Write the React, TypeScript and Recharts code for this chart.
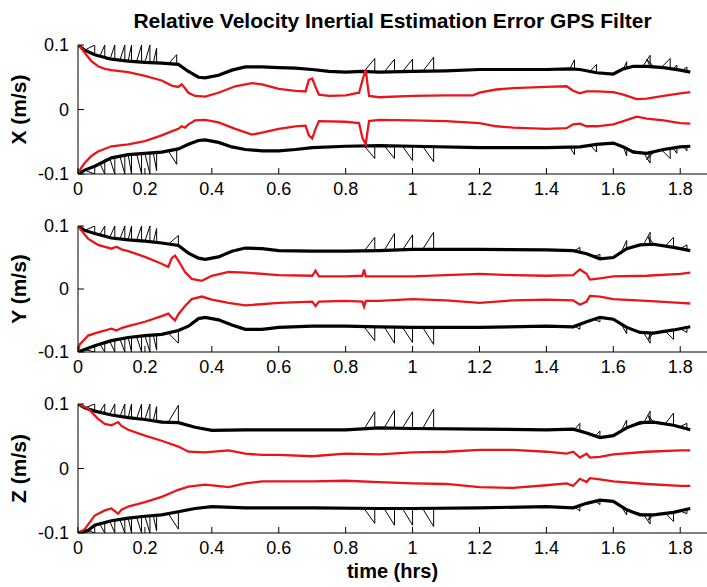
import React from 'react'
import { LineChart, Line, XAxis, YAxis, Label } from 'recharts'

type Pt = [number, number | null]

const TIME_TICKS = [0, 0.2, 0.4, 0.6, 0.8, 1, 1.2, 1.4, 1.6, 1.8]
const ERR_TICKS = [-0.1, 0, 0.1]

// X channel
const xSigUp: Pt[] = [[0,0.1],[0.02,0.092],[0.05,0.085],[0.1,0.078],[0.15,0.075],[0.2,0.073],[0.25,0.072],[0.3,0.07],[0.33,0.059],[0.36,0.05],[0.38,0.049],[0.42,0.053],[0.46,0.061],[0.5,0.066],[0.55,0.066],[0.6,0.065],[0.65,0.064],[0.7,0.062],[0.75,0.059],[0.8,0.058],[0.85,0.059],[0.9,0.058],[1.0,0.059],[1.1,0.06],[1.2,0.062],[1.4,0.062],[1.47,0.063],[1.5,0.062],[1.55,0.057],[1.6,0.055],[1.63,0.063],[1.66,0.067],[1.7,0.067],[1.75,0.065],[1.8,0.061],[1.83,0.058]]
const xSigLo: Pt[] = [[0,-0.1],[0.02,-0.094],[0.05,-0.088],[0.1,-0.075],[0.15,-0.07],[0.2,-0.068],[0.25,-0.066],[0.3,-0.061],[0.33,-0.054],[0.36,-0.048],[0.38,-0.047],[0.42,-0.051],[0.46,-0.058],[0.5,-0.062],[0.55,-0.064],[0.6,-0.064],[0.65,-0.062],[0.7,-0.059],[0.8,-0.057],[0.9,-0.056],[1.0,-0.057],[1.2,-0.059],[1.4,-0.059],[1.5,-0.058],[1.55,-0.054],[1.6,-0.052],[1.63,-0.058],[1.66,-0.066],[1.7,-0.068],[1.75,-0.062],[1.8,-0.058],[1.83,-0.057]]
const xRedUp: Pt[] = [[0,0.1],[0.01,0.095],[0.02,0.088],[0.04,0.075],[0.06,0.067],[0.08,0.063],[0.1,0.061],[0.15,0.058],[0.2,0.052],[0.25,0.045],[0.28,0.037],[0.3,0.035],[0.31,0.039],[0.32,0.033],[0.33,0.026],[0.35,0.021],[0.38,0.02],[0.42,0.026],[0.47,0.036],[0.52,0.041],[0.55,0.039],[0.6,0.032],[0.65,0.029],[0.68,0.028],[0.69,0.046],[0.7,0.048],[0.71,0.035],[0.72,0.023],[0.75,0.021],[0.8,0.022],[0.84,0.026],[0.85,0.045],[0.86,0.062],[0.865,0.04],[0.87,0.021],[0.9,0.019],[1.0,0.021],[1.1,0.022],[1.18,0.022],[1.2,0.026],[1.25,0.031],[1.3,0.033],[1.4,0.035],[1.46,0.036],[1.48,0.029],[1.5,0.025],[1.52,0.028],[1.55,0.028],[1.6,0.027],[1.63,0.023],[1.67,0.016],[1.7,0.017],[1.75,0.021],[1.8,0.025],[1.83,0.027]]
const xRedLo: Pt[] = [[0,-0.1],[0.01,-0.09],[0.02,-0.083],[0.04,-0.072],[0.06,-0.065],[0.1,-0.057],[0.15,-0.054],[0.2,-0.049],[0.25,-0.04],[0.28,-0.034],[0.3,-0.03],[0.31,-0.026],[0.32,-0.028],[0.33,-0.023],[0.35,-0.017],[0.38,-0.016],[0.42,-0.02],[0.47,-0.03],[0.52,-0.039],[0.55,-0.036],[0.6,-0.03],[0.65,-0.026],[0.68,-0.025],[0.69,-0.04],[0.7,-0.045],[0.71,-0.03],[0.72,-0.018],[0.8,-0.019],[0.84,-0.021],[0.85,-0.044],[0.86,-0.054],[0.865,-0.035],[0.87,-0.018],[0.9,-0.016],[1.0,-0.017],[1.1,-0.018],[1.2,-0.021],[1.25,-0.026],[1.3,-0.028],[1.4,-0.03],[1.46,-0.029],[1.48,-0.023],[1.5,-0.022],[1.52,-0.026],[1.55,-0.026],[1.6,-0.023],[1.63,-0.018],[1.67,-0.011],[1.7,-0.014],[1.75,-0.017],[1.8,-0.021],[1.83,-0.022]]
const xSawUp: Pt[] = [[0.02,0.092],[0.05,0.1],[0.05,0.085],[0.065,0.082],[0.08,0.1],[0.08,0.079],[0.095,0.077],[0.11,0.1],[0.11,0.077],[0.125,0.076],[0.14,0.1],[0.14,0.075],[0.15,0.075],[0.16,0.1],[0.16,0.075],[0.175,0.074],[0.19,0.1],[0.19,0.073],[0.2,0.073],[0.215,0.1],[0.215,0.072],[0.225,0.072],[0.235,0.095],[0.235,0.072],[0.27,0.071],[0.295,0.085],[0.295,0.07],[0.31,0.068],[0.32,null],[0.855,0.059],[0.887,0.079],[0.887,0.059],[0.915,0.058],[0.946,0.078],[0.946,0.059],[0.97,0.059],[1.0,0.078],[1.0,0.059],[1.03,0.059],[1.063,0.081],[1.063,0.059],[1.07,0.059],[1.1,null],[1.47,0.063],[1.484,0.077],[1.484,0.063],[1.5,0.062],[1.51,null],[1.53,0.059],[1.55,0.07],[1.55,0.057],[1.56,null],[1.63,0.063],[1.64,0.074],[1.64,0.065],[1.69,0.068],[1.71,0.084],[1.71,0.067],[1.7,0.078],[1.72,0.067],[1.745,0.066],[1.77,0.079],[1.77,0.064],[1.78,0.063],[1.79,0.069],[1.79,0.062],[1.81,0.062],[1.82,0.066],[1.82,0.059]]
const xSawLo: Pt[] = [[0.02,-0.094],[0.05,-0.1],[0.05,-0.088],[0.065,-0.083],[0.08,-0.1],[0.08,-0.078],[0.095,-0.076],[0.11,-0.1],[0.11,-0.074],[0.125,-0.072],[0.14,-0.1],[0.14,-0.07],[0.15,-0.07],[0.16,-0.1],[0.16,-0.069],[0.175,-0.068],[0.19,-0.1],[0.19,-0.068],[0.2,-0.068],[0.215,-0.1],[0.215,-0.067],[0.225,-0.067],[0.235,-0.095],[0.235,-0.066],[0.27,-0.064],[0.295,-0.085],[0.295,-0.062],[0.31,-0.06],[0.32,null],[0.855,-0.056],[0.887,-0.076],[0.887,-0.056],[0.915,-0.056],[0.946,-0.076],[0.946,-0.056],[0.97,-0.057],[1.0,-0.079],[1.0,-0.057],[1.03,-0.057],[1.063,-0.081],[1.063,-0.057],[1.07,-0.057],[1.1,null],[1.47,-0.058],[1.484,-0.07],[1.484,-0.058],[1.5,-0.058],[1.51,null],[1.53,-0.055],[1.55,-0.066],[1.55,-0.053],[1.56,null],[1.63,-0.058],[1.64,-0.072],[1.64,-0.062],[1.69,-0.067],[1.71,-0.083],[1.71,-0.067],[1.7,-0.078],[1.72,-0.067],[1.745,-0.063],[1.77,-0.076],[1.77,-0.061],[1.78,-0.061],[1.79,-0.068],[1.79,-0.059],[1.81,-0.058],[1.82,-0.064],[1.82,-0.057]]

// Y channel
const ySigUp: Pt[] = [[0,0.1],[0.02,0.093],[0.05,0.088],[0.1,0.081],[0.15,0.078],[0.2,0.076],[0.25,0.073],[0.3,0.069],[0.33,0.057],[0.36,0.049],[0.38,0.047],[0.42,0.051],[0.46,0.06],[0.5,0.065],[0.55,0.064],[0.6,0.061],[0.7,0.06],[0.8,0.06],[0.9,0.061],[1.0,0.063],[1.2,0.063],[1.4,0.062],[1.48,0.061],[1.52,0.056],[1.56,0.048],[1.6,0.05],[1.64,0.064],[1.68,0.07],[1.72,0.071],[1.78,0.066],[1.83,0.061]]
const ySigLo: Pt[] = [[0,-0.1],[0.02,-0.096],[0.05,-0.09],[0.1,-0.082],[0.15,-0.077],[0.2,-0.074],[0.25,-0.072],[0.3,-0.066],[0.33,-0.059],[0.36,-0.047],[0.38,-0.045],[0.42,-0.049],[0.46,-0.057],[0.5,-0.064],[0.55,-0.064],[0.6,-0.061],[0.7,-0.059],[0.8,-0.059],[0.9,-0.06],[1.0,-0.061],[1.2,-0.061],[1.4,-0.059],[1.48,-0.06],[1.52,-0.052],[1.56,-0.045],[1.6,-0.048],[1.64,-0.061],[1.68,-0.069],[1.72,-0.07],[1.78,-0.065],[1.83,-0.06]]
const yRedUp: Pt[] = [[0,0.1],[0.01,0.093],[0.03,0.08],[0.06,0.07],[0.1,0.064],[0.115,0.067],[0.13,0.063],[0.15,0.06],[0.2,0.051],[0.25,0.04],[0.27,0.035],[0.28,0.049],[0.29,0.053],[0.3,0.045],[0.32,0.027],[0.34,0.016],[0.37,0.013],[0.4,0.021],[0.45,0.027],[0.5,0.026],[0.6,0.022],[0.7,0.021],[0.71,0.029],[0.72,0.02],[0.8,0.02],[0.85,0.021],[0.855,0.031],[0.86,0.02],[0.9,0.02],[1.0,0.02],[1.1,0.022],[1.2,0.024],[1.3,0.022],[1.4,0.021],[1.48,0.022],[1.5,0.031],[1.52,0.024],[1.53,0.015],[1.56,0.017],[1.6,0.02],[1.7,0.021],[1.8,0.024],[1.83,0.026]]
const yRedLo: Pt[] = [[0,-0.1],[0.005,-0.088],[0.03,-0.074],[0.06,-0.069],[0.1,-0.063],[0.115,-0.066],[0.13,-0.062],[0.15,-0.059],[0.2,-0.052],[0.25,-0.043],[0.27,-0.039],[0.28,-0.045],[0.29,-0.05],[0.3,-0.04],[0.32,-0.027],[0.34,-0.016],[0.37,-0.012],[0.4,-0.017],[0.45,-0.022],[0.5,-0.026],[0.6,-0.022],[0.7,-0.02],[0.71,-0.027],[0.72,-0.02],[0.8,-0.019],[0.85,-0.02],[0.855,-0.028],[0.86,-0.019],[0.9,-0.019],[1.0,-0.016],[1.1,-0.018],[1.2,-0.022],[1.3,-0.018],[1.4,-0.017],[1.48,-0.018],[1.5,-0.025],[1.52,-0.02],[1.53,-0.011],[1.56,-0.012],[1.6,-0.016],[1.7,-0.019],[1.8,-0.022],[1.83,-0.023]]
const ySawUp: Pt[] = [[0.02,0.093],[0.05,0.1],[0.05,0.088],[0.065,0.086],[0.08,0.1],[0.08,0.083],[0.095,0.082],[0.11,0.1],[0.11,0.08],[0.125,0.079],[0.14,0.1],[0.14,0.078],[0.15,0.078],[0.16,0.1],[0.16,0.077],[0.175,0.077],[0.19,0.1],[0.19,0.076],[0.2,0.076],[0.215,0.1],[0.215,0.075],[0.225,0.074],[0.235,0.096],[0.235,0.074],[0.27,0.071],[0.3,0.085],[0.3,0.069],[0.31,0.067],[0.32,null],[0.855,0.06],[0.887,0.082],[0.887,0.06],[0.915,0.061],[0.946,0.088],[0.946,0.062],[0.97,0.062],[1.0,0.086],[1.0,0.063],[1.03,0.063],[1.063,0.09],[1.063,0.063],[1.07,0.063],[1.1,null],[1.485,0.061],[1.5,0.066],[1.5,0.06],[1.51,null],[1.545,0.052],[1.56,0.055],[1.56,0.048],[1.57,null],[1.625,0.06],[1.64,0.077],[1.64,0.064],[1.69,0.07],[1.71,0.09],[1.71,0.071],[1.705,0.083],[1.72,0.071],[1.755,0.068],[1.78,0.082],[1.78,0.066],[1.8,0.064],[1.82,0.07],[1.82,0.062]]
const ySawLo: Pt[] = [[0.02,-0.096],[0.05,-0.1],[0.05,-0.09],[0.065,-0.087],[0.08,-0.1],[0.08,-0.084],[0.095,-0.083],[0.11,-0.1],[0.11,-0.081],[0.125,-0.079],[0.14,-0.1],[0.14,-0.078],[0.15,-0.077],[0.16,-0.1],[0.16,-0.076],[0.175,-0.075],[0.19,-0.1],[0.19,-0.074],[0.2,-0.074],[0.215,-0.1],[0.215,-0.073],[0.225,-0.073],[0.235,-0.097],[0.235,-0.072],[0.27,-0.07],[0.3,-0.086],[0.3,-0.066],[0.31,-0.064],[0.32,null],[0.855,-0.06],[0.887,-0.082],[0.887,-0.06],[0.915,-0.06],[0.946,-0.086],[0.946,-0.06],[0.97,-0.061],[1.0,-0.085],[1.0,-0.061],[1.03,-0.061],[1.063,-0.088],[1.063,-0.061],[1.07,-0.061],[1.1,null],[1.485,-0.059],[1.5,-0.064],[1.5,-0.057],[1.51,null],[1.545,-0.049],[1.56,-0.052],[1.56,-0.045],[1.57,null],[1.625,-0.057],[1.64,-0.071],[1.64,-0.062],[1.69,-0.069],[1.71,-0.086],[1.71,-0.07],[1.705,-0.08],[1.72,-0.07],[1.755,-0.067],[1.78,-0.08],[1.78,-0.065],[1.8,-0.063],[1.82,-0.069],[1.82,-0.061]]

// Z channel
const zSigUp: Pt[] = [[0,0.1],[0.02,0.094],[0.05,0.089],[0.1,0.083],[0.15,0.079],[0.2,0.076],[0.25,0.072],[0.3,0.071],[0.35,0.064],[0.4,0.059],[0.5,0.06],[0.6,0.06],[0.7,0.06],[0.8,0.06],[0.9,0.063],[1.0,0.062],[1.2,0.061],[1.4,0.06],[1.48,0.061],[1.52,0.055],[1.56,0.048],[1.6,0.051],[1.64,0.063],[1.68,0.071],[1.72,0.072],[1.78,0.067],[1.83,0.06]]
const zSigLo: Pt[] = [[0,-0.1],[0.03,-0.096],[0.05,-0.088],[0.1,-0.081],[0.15,-0.077],[0.2,-0.074],[0.25,-0.072],[0.3,-0.067],[0.35,-0.062],[0.4,-0.059],[0.5,-0.061],[0.7,-0.061],[0.9,-0.062],[1.0,-0.062],[1.2,-0.061],[1.4,-0.059],[1.48,-0.061],[1.52,-0.054],[1.56,-0.049],[1.6,-0.051],[1.64,-0.064],[1.68,-0.072],[1.72,-0.072],[1.78,-0.068],[1.83,-0.062]]
const zRedUp: Pt[] = [[0,0.1],[0.03,0.093],[0.06,0.077],[0.08,0.069],[0.1,0.067],[0.12,0.072],[0.13,0.066],[0.15,0.06],[0.2,0.051],[0.25,0.043],[0.3,0.034],[0.33,0.026],[0.38,0.025],[0.45,0.028],[0.5,0.023],[0.55,0.021],[0.6,0.021],[0.7,0.019],[0.8,0.023],[0.9,0.022],[1.0,0.025],[1.1,0.026],[1.2,0.029],[1.3,0.029],[1.4,0.026],[1.46,0.023],[1.48,0.026],[1.5,0.017],[1.52,0.023],[1.53,0.017],[1.56,0.018],[1.6,0.022],[1.7,0.026],[1.8,0.028],[1.83,0.028]]
const zRedLo: Pt[] = [[0,-0.1],[0.02,-0.094],[0.05,-0.073],[0.08,-0.065],[0.1,-0.062],[0.12,-0.07],[0.13,-0.064],[0.15,-0.059],[0.2,-0.052],[0.25,-0.044],[0.3,-0.033],[0.33,-0.028],[0.38,-0.025],[0.45,-0.029],[0.5,-0.023],[0.55,-0.02],[0.7,-0.02],[0.8,-0.019],[0.9,-0.021],[1.0,-0.023],[1.1,-0.024],[1.2,-0.029],[1.3,-0.03],[1.4,-0.026],[1.46,-0.023],[1.48,-0.027],[1.5,-0.016],[1.52,-0.021],[1.53,-0.015],[1.56,-0.017],[1.6,-0.02],[1.7,-0.024],[1.8,-0.027],[1.83,-0.027]]
const zSawUp: Pt[] = [[0.02,0.094],[0.05,0.1],[0.05,0.089],[0.065,0.087],[0.08,0.1],[0.08,0.085],[0.095,0.084],[0.11,0.1],[0.11,0.082],[0.125,0.08],[0.14,0.1],[0.14,0.08],[0.15,0.079],[0.16,0.1],[0.16,0.078],[0.175,0.077],[0.19,0.1],[0.19,0.076],[0.2,0.076],[0.215,0.1],[0.215,0.075],[0.225,0.074],[0.235,0.096],[0.235,0.074],[0.27,0.072],[0.3,0.098],[0.3,0.071],[0.31,0.07],[0.32,null],[0.855,0.061],[0.887,0.088],[0.887,0.062],[0.915,0.063],[0.946,0.09],[0.946,0.063],[0.97,0.063],[1.0,0.088],[1.0,0.062],[1.03,0.062],[1.063,0.092],[1.063,0.062],[1.07,0.062],[1.1,null],[1.485,0.061],[1.5,0.07],[1.5,0.06],[1.51,null],[1.545,0.05],[1.56,0.058],[1.56,0.048],[1.57,null],[1.625,0.06],[1.64,0.075],[1.64,0.063],[1.69,0.07],[1.71,0.089],[1.71,0.072],[1.705,0.082],[1.72,0.072],[1.755,0.069],[1.78,0.086],[1.78,0.067],[1.8,0.065],[1.82,0.07],[1.82,0.06]]
const zSawLo: Pt[] = [[0.03,-0.096],[0.05,-0.1],[0.05,-0.088],[0.065,-0.086],[0.08,-0.1],[0.08,-0.083],[0.095,-0.082],[0.11,-0.1],[0.11,-0.08],[0.125,-0.079],[0.14,-0.1],[0.14,-0.077],[0.15,-0.077],[0.16,-0.1],[0.16,-0.076],[0.175,-0.075],[0.19,-0.1],[0.19,-0.074],[0.2,-0.074],[0.215,-0.1],[0.215,-0.073],[0.225,-0.073],[0.235,-0.097],[0.235,-0.072],[0.27,-0.07],[0.3,-0.094],[0.3,-0.067],[0.31,-0.066],[0.32,null],[0.855,-0.062],[0.887,-0.085],[0.887,-0.062],[0.915,-0.062],[0.946,-0.088],[0.946,-0.062],[0.97,-0.062],[1.0,-0.088],[1.0,-0.062],[1.03,-0.062],[1.063,-0.09],[1.063,-0.062],[1.07,-0.062],[1.1,null],[1.485,-0.06],[1.5,-0.066],[1.5,-0.058],[1.51,null],[1.545,-0.05],[1.56,-0.056],[1.56,-0.049],[1.57,null],[1.625,-0.06],[1.64,-0.072],[1.64,-0.064],[1.69,-0.071],[1.71,-0.086],[1.71,-0.072],[1.705,-0.08],[1.72,-0.072],[1.755,-0.069],[1.78,-0.082],[1.78,-0.067],[1.8,-0.066],[1.82,-0.07],[1.82,-0.062]]

const FONT = '"Liberation Sans", Arial, Helvetica, sans-serif'
const RED = '#e8161a'

const pts = (a: Pt[]) => a.map(([t, v]) => ({ t, v }))

function YTick({ x, y, payload }: any) {
  return (
    <g>
      <line x1={x} x2={x + 6} y1={y} y2={y} stroke="#000" />
      <text x={x - 9} y={y} dy="0.36em" textAnchor="end" fontSize={18} fontFamily={FONT} fill="#000">
        {String(payload.value)}
      </text>
    </g>
  )
}

function XTick({ x, y, payload }: any) {
  return (
    <g>
      <line x1={x} x2={x} y1={y} y2={y - 6} stroke="#000" />
      <text x={x} y={y + 21} textAnchor="middle" fontSize={18} fontFamily={FONT} fill="#000">
        {String(payload.value)}
      </text>
    </g>
  )
}

interface PanelProps {
  top: number
  plotH: number
  name: string
  sigUp: Pt[]
  sigLo: Pt[]
  redUp: Pt[]
  redLo: Pt[]
  sawUp: Pt[]
  sawLo: Pt[]
  xLabel?: string
}

function Panel({ top, plotH, name, sigUp, sigLo, redUp, redLo, sawUp, sawLo, xLabel }: PanelProps) {
  const axisH = xLabel ? 52 : 30
  const thin = { stroke: '#000', strokeWidth: 1, dot: false, activeDot: false, isAnimationActive: false, connectNulls: false }
  const thick = { stroke: '#000', strokeWidth: 3.2, dot: false, activeDot: false, isAnimationActive: false }
  const red = { stroke: RED, strokeWidth: 2.3, dot: false, activeDot: false, isAnimationActive: false }

  return (
    <div style={{ position: 'absolute', left: 0, top: top - 10 }}>
      <LineChart width={707} height={10 + plotH + axisH} margin={{ top: 10, right: 0, bottom: 0, left: 0 }}>
        <XAxis
          type="number"
          dataKey="t"
          domain={[0, 1.88]}
          ticks={TIME_TICKS}
          allowDataOverflow
          height={axisH}
          tickSize={0}
          tickMargin={0}
          tick={<XTick />}
          axisLine={{ stroke: '#000' }}
        >
          {xLabel && (
            <Label
              content={({ viewBox }: any) => (
                <text
                  x={viewBox.x + viewBox.width / 2}
                  y={viewBox.y + 45}
                  textAnchor="middle"
                  fontSize={20}
                  fontWeight="bold"
                  fontFamily={FONT}
                >
                  {xLabel}
                </text>
              )}
            />
          )}
        </XAxis>
        <YAxis
          type="number"
          domain={[-0.1, 0.1]}
          ticks={ERR_TICKS}
          allowDataOverflow
          width={78}
          tickSize={0}
          tickMargin={0}
          tick={<YTick />}
          axisLine={{ stroke: '#000' }}
        >
          <Label
            content={({ viewBox }: any) => {
              const cy = viewBox.y + viewBox.height / 2
              return (
                <text
                  x={26}
                  y={cy}
                  transform={`rotate(-90, 26, ${cy})`}
                  textAnchor="middle"
                  fontSize={21}
                  fontWeight="bold"
                  fontFamily={FONT}
                >
                  {name}
                </text>
              )
            }}
          />
        </YAxis>
        <Line data={pts(sawUp)} dataKey="v" {...thin} />
        <Line data={pts(sawLo)} dataKey="v" {...thin} />
        <Line data={pts(sigUp)} dataKey="v" {...thick} />
        <Line data={pts(sigLo)} dataKey="v" {...thick} />
        <Line data={pts(redUp)} dataKey="v" {...red} />
        <Line data={pts(redLo)} dataKey="v" {...red} />
      </LineChart>
    </div>
  )
}

export default function App() {
  return (
    <div style={{ position: 'absolute', left: 0, top: 0, width: 707, height: 587, background: '#fff', overflow: 'hidden' }}>
      <div
        style={{
          position: 'absolute',
          left: 78,
          width: 629,
          top: 10,
          lineHeight: '21px',
          fontSize: 21,
          fontWeight: 'bold',
          fontFamily: FONT,
          textAlign: 'center',
        }}
      >
        Relative Velocity Inertial Estimation Error GPS Filter
      </div>
      <Panel top={45} plotH={129} name="X (m/s)" sigUp={xSigUp} sigLo={xSigLo} redUp={xRedUp} redLo={xRedLo} sawUp={xSawUp} sawLo={xSawLo} />
      <Panel top={226} plotH={126} name="Y (m/s)" sigUp={ySigUp} sigLo={ySigLo} redUp={yRedUp} redLo={yRedLo} sawUp={ySawUp} sawLo={ySawLo} />
      <Panel top={404} plotH={129} name="Z (m/s)" sigUp={zSigUp} sigLo={zSigLo} redUp={zRedUp} redLo={zRedLo} sawUp={zSawUp} sawLo={zSawLo} xLabel="time (hrs)" />
    </div>
  )
}
